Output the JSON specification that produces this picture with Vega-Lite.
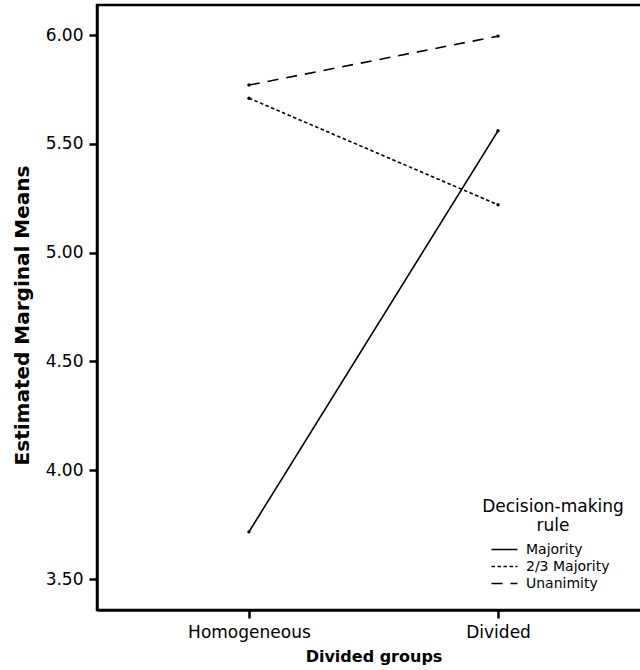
{
  "$schema": "https://vega.github.io/schema/vega-lite/v6.json",
  "autosize": "none",
  "padding": {"left": 97, "top": 5, "right": 0, "bottom": 60},
  "width": 553,
  "height": 605,
  "background": "white",
  "config": {
    "font": "DejaVu Sans",
    "view": {"stroke": "black", "strokeWidth": 2.5},
    "axis": {
      "domainColor": "black",
      "domainWidth": 2.5,
      "tickColor": "black",
      "tickWidth": 2.5,
      "tickSize": 8,
      "grid": false,
      "labelColor": "black",
      "titleColor": "black",
      "labelFont": "DejaVu Sans",
      "titleFont": "DejaVu Sans"
    }
  },
  "data": {
    "values": [
      {"group": "Homogeneous", "rule": "Majority", "mean": 3.717},
      {"group": "Divided", "rule": "Majority", "mean": 5.56},
      {"group": "Homogeneous", "rule": "2/3 Majority", "mean": 5.71},
      {"group": "Divided", "rule": "2/3 Majority", "mean": 5.22},
      {"group": "Homogeneous", "rule": "Unanimity", "mean": 5.77},
      {"group": "Divided", "rule": "Unanimity", "mean": 5.995}
    ]
  },
  "encoding": {
    "x": {
      "field": "group",
      "type": "ordinal",
      "sort": ["Homogeneous", "Divided"],
      "scale": {"type": "point", "padding": 0.61},
      "axis": {
        "title": "Divided groups",
        "titleFontSize": 16,
        "titleFontWeight": "bold",
        "titlePadding": 8,
        "labelFontSize": 17,
        "labelAngle": 0,
        "labelPadding": 6
      }
    },
    "y": {
      "field": "mean",
      "type": "quantitative",
      "scale": {"domain": [3.358, 6.138], "nice": false, "zero": false},
      "axis": {
        "title": "Estimated Marginal Means",
        "titleFontSize": 20,
        "titleFontWeight": "bold",
        "titlePadding": 13,
        "titleY": 310,
        "labelFontSize": 17,
        "labelPadding": 6,
        "values": [3.5, 4.0, 4.5, 5.0, 5.5, 6.0],
        "format": ".2f"
      }
    }
  },
  "layer": [
    {
      "mark": {"type": "line", "color": "black", "strokeWidth": 1.6},
      "encoding": {
        "detail": {"field": "rule", "type": "nominal"},
        "strokeDash": {
          "field": "rule",
          "type": "nominal",
          "scale": {
            "domain": ["Majority", "2/3 Majority", "Unanimity"],
            "range": [[1, 0], [3.5, 2.5], [11, 8]]
          },
          "legend": {
            "title": ["Decision-making", "rule"],
            "orient": "none",
            "legendX": 385,
            "legendY": 494,
            "padding": 0,
            "titleFontSize": 17,
            "titleFontWeight": "normal",
            "titleColor": "black",
            "titleAnchor": "middle",
            "titleAlign": "center",
            "titleLineHeight": 19,
            "titlePadding": 7,
            "labelFontSize": 14,
            "labelColor": "black",
            "labelOffset": 14,
            "symbolType": "M-2,0H2",
            "symbolSize": 169,
            "symbolStrokeColor": "black",
            "symbolStrokeWidth": 1.6,
            "rowPadding": 2
          }
        }
      }
    },
    {
      "mark": {"type": "point", "filled": true, "color": "black", "size": 12, "opacity": 1},
      "encoding": {}
    }
  ]
}
